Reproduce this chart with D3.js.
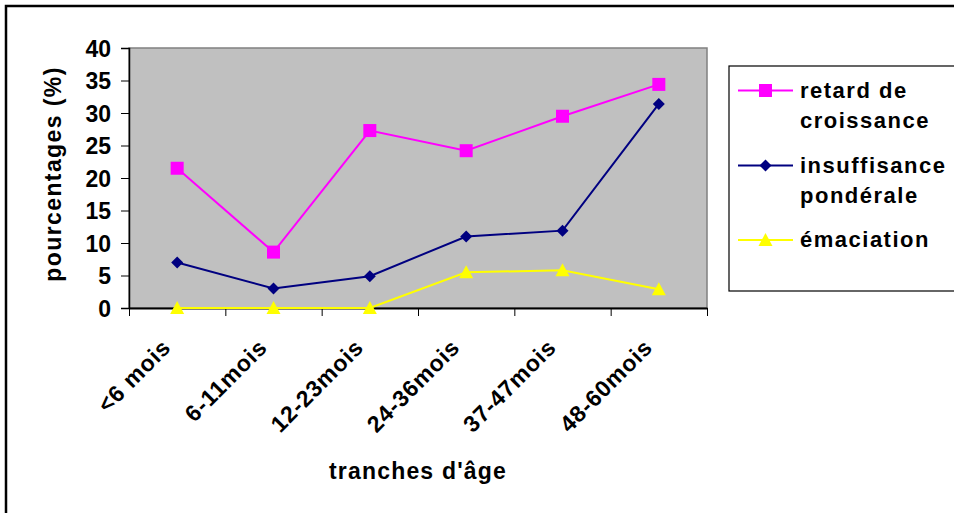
<!DOCTYPE html>
<html>
<head>
<meta charset="utf-8">
<script src="https://cdn.jsdelivr.net/npm/d3@7"></script>
<style>
  html, body { margin: 0; padding: 0; background: #fff; }
  svg { display: block; font-family: "Liberation Sans", Arial, sans-serif; font-weight: bold; }
</style>
</head>
<body>
<svg id="chart" width="954" height="513"></svg>
<script>
const categories = ["<6 mois", "6-11mois", "12-23mois", "24-36mois", "37-47mois", "48-60mois"];
const retard = [21.5, 8.6, 27.3, 24.2, 29.5, 34.4];
const insuffisance = [7.0, 3.0, 4.9, 11.0, 11.9, 31.4];
const emaciation = [0, 0, 0, 5.5, 5.8, 2.9];
const yTicks = [0, 5, 10, 15, 20, 25, 30, 35, 40];
const seriesNames = [["retard de", "croissance"], ["insuffisance", "pondérale"], ["émaciation"]];
const yTitle = "pourcentages (%)";
const xTitle = "tranches d'âge";

const series = [
  { lines: seriesNames[0], values: retard, color: "#FF00FF", marker: "square" },
  { lines: seriesNames[1], values: insuffisance, color: "#000080", marker: "diamond" },
  { lines: seriesNames[2], values: emaciation, color: "#FFFF00", marker: "triangle" }
];

const svg = d3.select("#chart");
const plot = { left: 129, top: 48, right: 707, bottom: 308 };

// outer frame
svg.append("rect").attr("x", 6).attr("y", 6).attr("width", 980).attr("height", 540)
  .attr("fill", "none").attr("stroke", "#000").attr("stroke-width", 2.5);

const x = d3.scaleBand().domain(categories).range([plot.left, plot.right]);
const y = d3.scaleLinear().domain([0, 40]).range([plot.bottom, plot.top]);

// plot area
svg.append("rect").attr("x", plot.left).attr("y", plot.top)
  .attr("width", plot.right - plot.left).attr("height", plot.bottom - plot.top)
  .attr("fill", "#C0C0C0").attr("stroke", "#808080").attr("stroke-width", 1.5);

// y axis
const yAxis = d3.axisLeft(y).tickValues(yTicks).tickSizeOuter(0).tickSize(8).tickPadding(10);
const gy = svg.append("g").attr("transform", `translate(${plot.left},0)`).call(yAxis);
gy.select(".domain").attr("stroke", "#000").attr("stroke-width", 1.5);
gy.selectAll(".tick line").attr("stroke", "#000").attr("stroke-width", 1);
gy.selectAll(".tick text").attr("font-size", 23).attr("font-family", "Liberation Sans, Arial, sans-serif")
  .attr("font-weight", "bold").attr("fill", "#000").attr("dy", "0.36em");

// x axis: ticks at category boundaries
const boundaries = categories.map(c => x(c)).concat([plot.right]);
const xb = d3.scaleLinear().domain([plot.left, plot.right]).range([plot.left, plot.right]);
const xAxis = d3.axisBottom(xb).tickValues(boundaries).tickSize(8).tickSizeOuter(0).tickFormat("");
const gx = svg.append("g").attr("transform", `translate(0,${plot.bottom})`).call(xAxis);
gx.select(".domain").attr("stroke", "#000").attr("stroke-width", 2);
gx.selectAll(".tick line").attr("stroke", "#000").attr("stroke-width", 1);

// x category labels
svg.append("g").selectAll("text").data(categories).join("text")
  .attr("transform", d => `translate(${x(d) + x.bandwidth() / 2 - 5},${plot.bottom + 41}) rotate(-45)`)
  .attr("text-anchor", "end")
  .attr("font-size", 23).attr("letter-spacing", 0.8).attr("fill", "#000")
  .text(d => d);

// lines
const line = d3.line().x((d, i) => x(categories[i]) + x.bandwidth() / 2).y(d => y(d));
function drawMarker(g, type, cx, cy, color) {
  if (type === "square") {
    g.append("rect").attr("x", cx - 6.5).attr("y", cy - 6.5).attr("width", 13).attr("height", 13).attr("fill", color);
  } else if (type === "diamond") {
    g.append("path").attr("d", `M${cx},${cy - 6}L${cx + 6},${cy}L${cx},${cy + 6}L${cx - 6},${cy}Z`).attr("fill", color);
  } else {
    g.append("path").attr("d", `M${cx},${cy - 7}L${cx + 7},${cy + 6}L${cx - 7},${cy + 6}Z`).attr("fill", color);
  }
}
const order = [2, 1, 0];
order.forEach(k => {
  const s = series[k];
  const g = svg.append("g");
  g.append("path").datum(s.values).attr("d", line).attr("fill", "none")
    .attr("stroke", s.color).attr("stroke-width", 2);
  s.values.forEach((v, i) => drawMarker(g, s.marker, x(categories[i]) + x.bandwidth() / 2, y(v), s.color));
});

// axis titles
svg.append("text").attr("transform", `translate(61,${(plot.top + plot.bottom) / 2 - 4}) rotate(-90)`)
  .attr("text-anchor", "middle").attr("font-size", 23).attr("letter-spacing", 1.4).text(yTitle);
svg.append("text").attr("x", (plot.left + plot.right) / 2).attr("y", 479)
  .attr("text-anchor", "middle").attr("font-size", 23).attr("letter-spacing", 1.2).text(xTitle);

// legend
svg.append("rect").attr("x", 729).attr("y", 66).attr("width", 260).attr("height", 225)
  .attr("fill", "#fff").attr("stroke", "#000").attr("stroke-width", 1.2);
const legendY = [90.5, 165.5, 240];
series.forEach((s, k) => {
  const g = svg.append("g");
  const ly = legendY[k];
  g.append("line").attr("x1", 738).attr("x2", 793).attr("y1", ly).attr("y2", ly)
    .attr("stroke", s.color).attr("stroke-width", 2);
  drawMarker(g, s.marker, 765.5, ly, s.color);
  s.lines.forEach((t, j) => {
    g.append("text").attr("x", 800).attr("y", ly + 7 + j * 30)
      .attr("font-size", 22).attr("letter-spacing", 1.5).attr("fill", "#000").text(t);
  });
});
</script>
</body>
</html>
